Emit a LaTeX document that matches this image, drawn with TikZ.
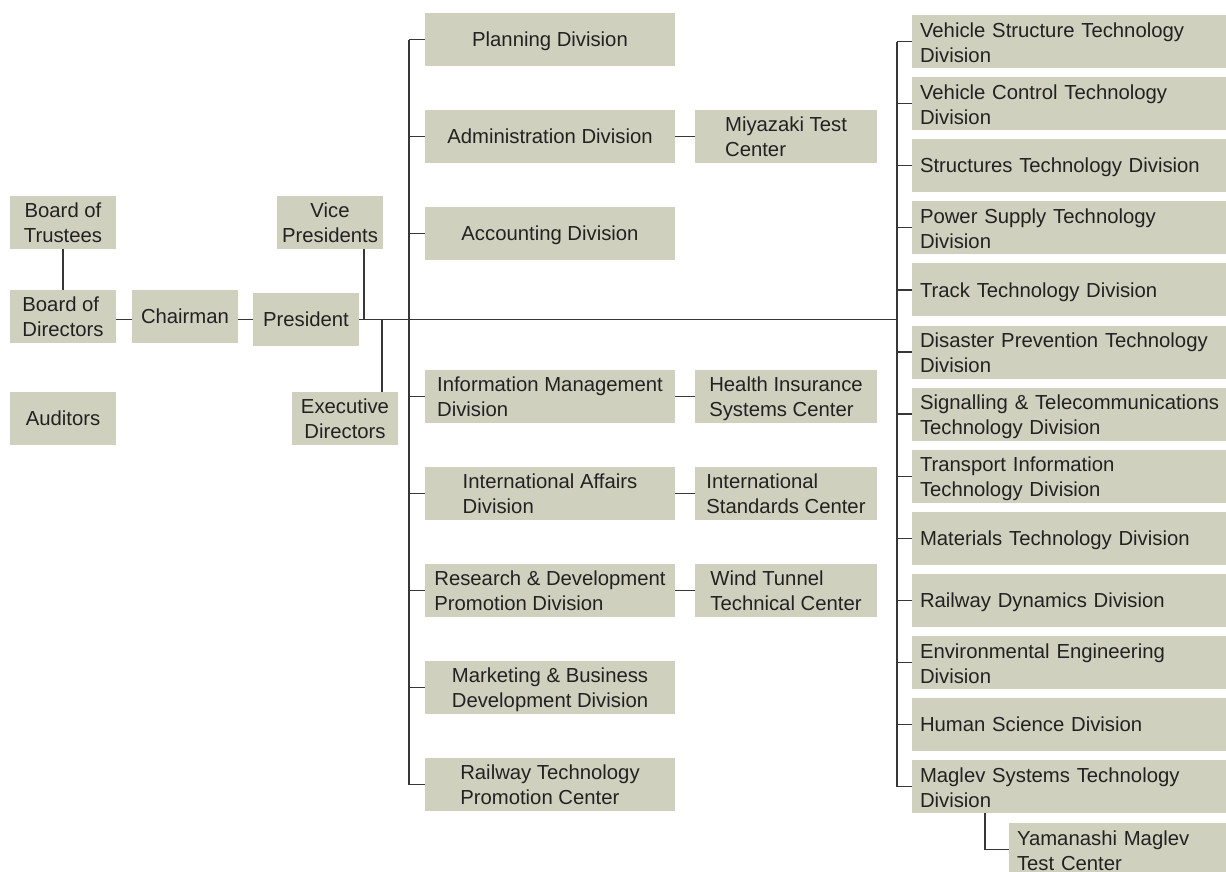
\documentclass[tikz,border=0pt]{standalone}
\usepackage{fontspec}
\setmainfont{Liberation Sans}
\definecolor{boxfill}{RGB}{208,208,191}
\definecolor{txt}{RGB}{34,34,34}
\definecolor{ln}{RGB}{55,55,55}
\begin{document}
\begin{tikzpicture}[x=1pt,y=-1pt,
  box/.style={fill=boxfill, text=txt, inner sep=0pt, minimum height=53pt,
    font=\fontsize{20.3}{25}\selectfont, align=center, text depth=0pt},
  one/.style={text height=14.5pt, text depth=0pt},
  sbox/.style={box, minimum width=106pt},
  lbox/.style={box, minimum width=250pt, align=left},
  cbox/.style={box, minimum width=182pt, align=left},
  rbox/.style={box, text height=20pt, text depth=29pt, text width=298pt, inner xsep=8pt, align=left},
  conn/.style={draw=ln, line width=1.3pt}]
\useasboundingbox (0,0) rectangle (1226,871);

% left column
\node[sbox] (bot) at (63,222.5) {Board of\\Trustees};
\node[sbox, align=left] (bod) at (63,316.5) {Board of\\Directors};
\node[sbox, one] (aud) at (63,418.5) {Auditors};
\node[sbox, one] (chair) at (185,316.5) {Chairman};
\node[sbox, one] (pres) at (306,319.5) {President};
\node[sbox] (vp) at (330,222.5) {Vice\\Presidents};
\node[sbox] (ed) at (345,418.5) {Executive\\Directors};

% middle column
\node[lbox, one] (plan) at (550,39.5) {Planning Division};
\node[lbox, one] (adm) at (550,136.5) {Administration Division};
\node[lbox, one] (acc) at (550,233.5) {Accounting Division};
\node[lbox] (info) at (550,396.5) {Information Management\\Division};
\node[lbox] (intl) at (550,493.5) {International Affairs\\Division};
\node[lbox] (rd) at (550,590.5) {Research \& Development\\Promotion Division};
\node[lbox] (mkt) at (550,687.5) {Marketing \& Business\\Development Division};
\node[lbox] (rtp) at (550,784.5) {Railway Technology\\Promotion Center};

\node[cbox] (miya) at (786,136.5) {Miyazaki Test\\Center};
\node[cbox] (hisc) at (786,396.5) {Health Insurance\\Systems Center};
\node[cbox] (isc) at (786,493.5) {International\\Standards Center};
\node[cbox] (wind) at (786,590.5) {Wind Tunnel\\Technical Center};

% right column
\node[rbox] (r1) at (1069,41.5) {Vehicle Structure Technology\\Division};
\node[rbox] (r2) at (1069,103.6) {Vehicle Control Technology\\Division};
\node[rbox, one] (r3) at (1069,165.7) {Structures Technology Division};
\node[rbox] (r4) at (1069,227.8) {Power Supply Technology\\Division};
\node[rbox, one] (r5) at (1069,289.9) {Track Technology Division};
\node[rbox] (r6) at (1069,352.0) {Disaster Prevention Technology\\Division};
\node[rbox] (r7) at (1069,414.1) {\mbox{Signalling \& Telecommunications}\\Technology Division};
\node[rbox] (r8) at (1069,476.2) {Transport Information\\Technology Division};
\node[rbox, one] (r9) at (1069,538.3) {Materials Technology Division};
\node[rbox, one] (r10) at (1069,600.4) {Railway Dynamics Division};
\node[rbox] (r11) at (1069,662.5) {Environmental Engineering\\Division};
\node[rbox, one] (r12) at (1069,724.6) {Human Science Division};
\node[rbox] (r13) at (1069,786.7) {Maglev Systems Technology\\Division};
\node[rbox, minimum width=217pt, minimum height=54pt, text width=201pt] (yam) at (1117.5,849.5) {Yamanashi Maglev\\Test Center};

% junction coordinates
\coordinate (vpj) at (364,319.5);
\coordinate (edj) at (382,319.5);
\coordinate (lb) at (409,319.5);
\coordinate (rb) at (897,319.5);
\coordinate (yj) at (985,848);

% connectors
\draw[conn] (bot) -- (bod);
\draw[conn] (bod.east |- pres) -- (chair.west |- pres);
\draw[conn] (chair.east |- pres) -- (pres.west);
\draw[conn] (pres.east) -- (rb);
\draw[conn] (vpj |- vp.south) -- (vpj);
\draw[conn] (edj) -- (edj |- ed.north);

\draw[conn] (lb |- plan) -- (lb |- rtp);
\foreach \n in {plan,adm,acc,info,intl,rd,mkt,rtp}
  \draw[conn] (lb |- \n) -- (\n.west);
\draw[conn] (adm) -- (miya);
\draw[conn] (info) -- (hisc);
\draw[conn] (intl) -- (isc);
\draw[conn] (rd) -- (wind);

\draw[conn] (rb |- r1) -- (rb |- r13);
\foreach \n in {r1,r2,r3,r4,r5,r6,r7,r8,r9,r10,r11,r12,r13}
  \draw[conn] (rb |- \n) -- (\n.west);
\draw[conn] (yj |- r13.south) |- (yam.west);
\end{tikzpicture}
\end{document}
